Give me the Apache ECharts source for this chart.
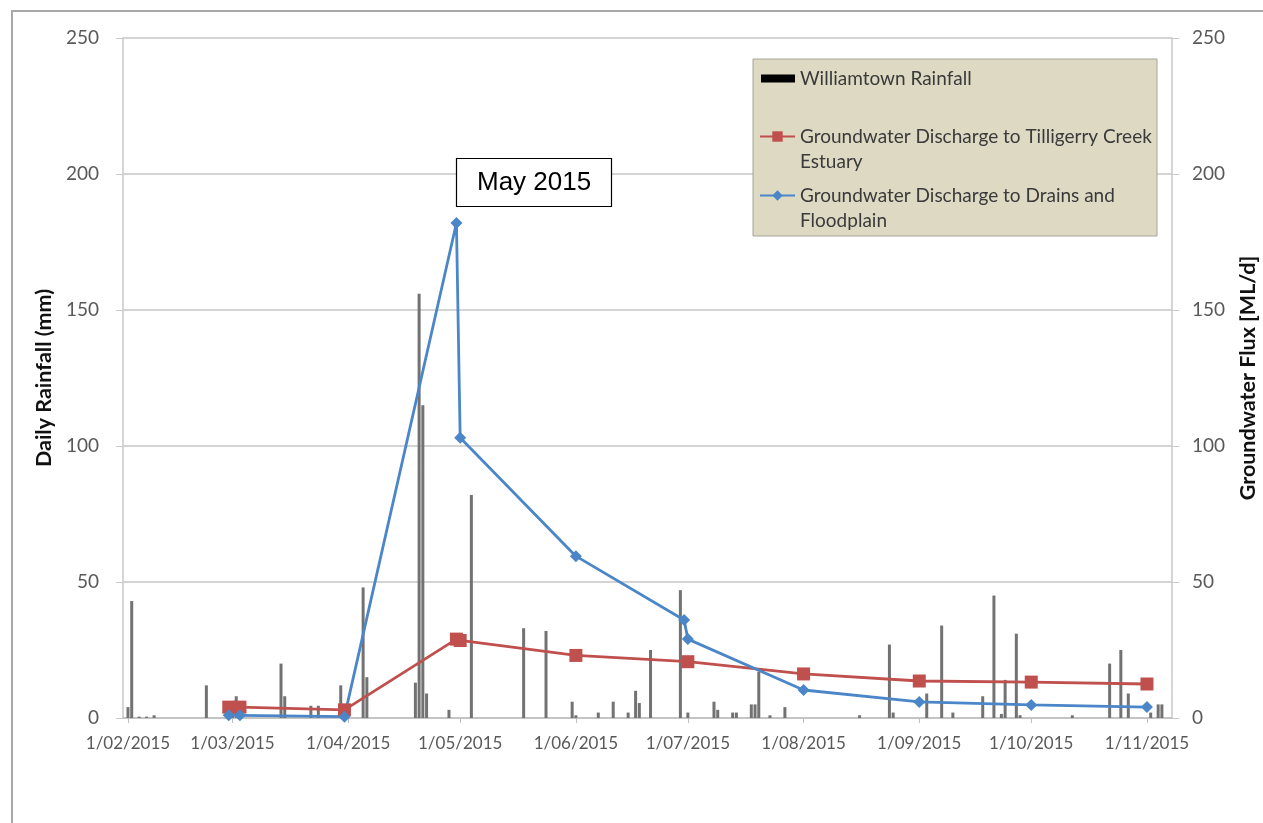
<!DOCTYPE html>
<html><head><meta charset="utf-8">
<script src="https://cdn.jsdelivr.net/npm/echarts@6/dist/echarts.min.js"></script>
<style>html,body{margin:0;padding:0;background:#fff}#c{width:1263px;height:823px}</style>
</head><body><div id="c"></div>
<script>
// ---- data ----
const monthTicks = ['2015-02-01','2015-03-01','2015-04-01','2015-05-01','2015-06-01','2015-07-01','2015-08-01','2015-09-01','2015-10-01','2015-11-01'];
const yTicks = [0, 50, 100, 150, 200, 250];

const rainDates = ['2015-02-01','2015-02-02','2015-02-04','2015-02-06','2015-02-08','2015-02-22','2015-03-01','2015-03-02','2015-03-14','2015-03-15','2015-03-22','2015-03-24','2015-03-30','2015-04-05','2015-04-06','2015-04-19','2015-04-20','2015-04-21','2015-04-22','2015-04-28','2015-05-04','2015-05-18','2015-05-24','2015-05-31','2015-06-01','2015-06-07','2015-06-11','2015-06-15','2015-06-17','2015-06-18','2015-06-21','2015-06-29','2015-07-01','2015-07-08','2015-07-09','2015-07-13','2015-07-14','2015-07-18','2015-07-19','2015-07-20','2015-07-23','2015-07-27','2015-08-16','2015-08-24','2015-08-25','2015-09-03','2015-09-07','2015-09-10','2015-09-18','2015-09-21','2015-09-23','2015-09-24','2015-09-27','2015-09-28','2015-10-12','2015-10-22','2015-10-25','2015-10-27','2015-11-02','2015-11-04','2015-11-05'];
const rainMm = [4,43,0.5,0.5,1,12,5,8,20,8,4.5,4.5,12,48,15,13,156,115,9,3,82,33,32,6,1,2,6,2,10,5.5,25,47,2,6,3,2,2,5,5,17,1,4,1,27,2,9,34,2,8,45,1.5,14,31,1,1,20,25,9,2,5,5];

const tilligerryDates = ['2015-02-28','2015-03-03','2015-03-31','2015-04-30','2015-05-01','2015-06-01','2015-07-01','2015-08-01','2015-09-01','2015-10-01','2015-11-01'];
const tilligerryFlux = [4,4,3,29,28.5,23,20.7,16.2,13.6,13.2,12.5];

const drainsDates = ['2015-02-28','2015-03-03','2015-03-31','2015-04-30','2015-05-01','2015-06-01','2015-06-30','2015-07-01','2015-08-01','2015-09-01','2015-10-01','2015-11-01'];
const drainsFlux = [1,1,0.5,182,103,59.5,36,29,10.3,5.9,4.8,4];

const seriesNames = ['Williamtown Rainfall','Groundwater Discharge to Tilligerry Creek Estuary','Groundwater Discharge to Drains and Floodplain'];
const legendLines = {
  'Williamtown Rainfall': 'Williamtown Rainfall',
  'Groundwater Discharge to Tilligerry Creek Estuary': '\nGroundwater Discharge to Tilligerry Creek\nEstuary',
  'Groundwater Discharge to Drains and Floodplain': '\nGroundwater Discharge to Drains and\nFloodplain'
};

// ---- helpers ----
function ts(s){ const p = s.split('-').map(Number); return Date.UTC(p[0], p[1]-1, p[2]); }
function pad(n){ return n < 10 ? '0' + n : '' + n; }
function fmtDate(v){ const d = new Date(v); return d.getUTCDate() + '/' + pad(d.getUTCMonth()+1) + '/' + d.getUTCFullYear(); }
function pairs(dates, vals){ return dates.map((d,i) => [ts(d), vals[i]]); }

const FONT = 'Lato';
const labelColor = '#595959';

const chart = echarts.init(document.getElementById('c'), null, {renderer: 'canvas'});

const legendText = {color: '#3a3a3a', fontFamily: FONT, fontSize: 19, lineHeight: 25};

chart.setOption({
  animation: false,
  backgroundColor: '#ffffff',
  grid: {left: 123, right: 91, top: 38, bottom: 105, outerBoundsMode: 'none', containLabel: false},
  title: {
    text: 'May 2015', left: 456, top: 158,
    backgroundColor: '#ffffff', borderColor: '#000000', borderWidth: 1.2,
    padding: [10, 21, 10, 21],
    textStyle: {fontFamily: 'Liberation Sans', fontSize: 26, fontWeight: 'normal', color: '#000', lineHeight: 29}
  },
  graphic: [
    {type: 'rect', z: -1, silent: true, shape: {x: 12, y: 11, width: 1400, height: 1000}, style: {fill: 'none', stroke: '#a8a8a8', lineWidth: 2}},
    {type: 'rect', z: 3, silent: true, shape: {x: 753, y: 59, width: 404, height: 177}, style: {fill: '#ddd9c3', stroke: '#a6a49a', lineWidth: 1}}
  ],
  legend: [
    {left: 761, top: 66, padding: 0, itemWidth: 34, itemHeight: 8, itemGap: 0, z: 5,
     data: [{name: seriesNames[0], icon: 'rect', itemStyle: {color: '#000'}}],
     formatter: n => legendLines[n], textStyle: legendText, selectedMode: false},
    {left: 759, top: 99, padding: 0, itemWidth: 35, itemHeight: 13, z: 5,
     data: [seriesNames[1]], formatter: n => legendLines[n],
     textStyle: legendText, selectedMode: false},
    {left: 759, top: 158, padding: 0, itemWidth: 35, itemHeight: 13, z: 5,
     data: [seriesNames[2]], formatter: n => legendLines[n],
     textStyle: legendText, selectedMode: false}
  ],
  xAxis: {
    type: 'value',
    min: Date.UTC(2015, 0, 30, 16),
    max: Date.UTC(2015, 10, 7, 17),
    axisLine: {show: true, onZero: false, lineStyle: {color: '#bfbfbf', width: 1.5}},
    axisTick: {show: true, length: 5, lineStyle: {color: '#bfbfbf'}, customValues: monthTicks.map(ts)},
    axisLabel: {customValues: monthTicks.map(ts), formatter: v => fmtDate(v), color: labelColor, fontFamily: FONT, fontSize: 17, margin: 17},
    splitLine: {show: false}
  },
  yAxis: [
    {type: 'value', min: 0, max: 250, interval: 50, position: 'left',
     name: 'Daily Rainfall (mm)', nameLocation: 'middle', nameRotate: 90, nameGap: 64,
     nameTextStyle: {fontFamily: FONT, fontSize: 21.5, fontWeight: 'bold', color: '#111'},
     axisLine: {show: true, lineStyle: {color: '#c8c8c8', width: 1.5}},
     axisTick: {show: true, length: 7, lineStyle: {color: '#c8c8c8'}},
     axisLabel: {color: labelColor, fontFamily: FONT, fontSize: 19, margin: 24},
     splitLine: {show: true, lineStyle: {color: '#d4d4d4', width: 1.8}}},
    {type: 'value', min: 0, max: 250, interval: 50, position: 'right',
     name: 'Groundwater Flux [ML/d]', nameLocation: 'middle', nameRotate: 90, nameGap: 65,
     nameTextStyle: {fontFamily: FONT, fontSize: 21.5, fontWeight: 'bold', color: '#111'},
     axisLine: {show: true, lineStyle: {color: '#c8c8c8', width: 1.5}},
     axisTick: {show: true, length: 7, lineStyle: {color: '#c8c8c8'}},
     axisLabel: {color: labelColor, fontFamily: FONT, fontSize: 19, margin: 20},
     splitLine: {show: false}}
  ],
  series: [
    {name: seriesNames[0], type: 'bar', yAxisIndex: 0, barWidth: 3,
     itemStyle: {color: '#727272'}, data: pairs(rainDates, rainMm)},
    {name: seriesNames[1], type: 'line', yAxisIndex: 1, symbol: 'rect', symbolSize: 13,
     lineStyle: {color: '#c0504d', width: 2.8}, itemStyle: {color: '#c0504d'},
     data: pairs(tilligerryDates, tilligerryFlux)},
    {name: seriesNames[2], type: 'line', yAxisIndex: 1, symbol: 'diamond', symbolSize: 12,
     lineStyle: {color: '#4a86c8', width: 2.8}, itemStyle: {color: '#4a86c8'},
     data: pairs(drainsDates, drainsFlux)}
  ]
});
</script></body></html>
